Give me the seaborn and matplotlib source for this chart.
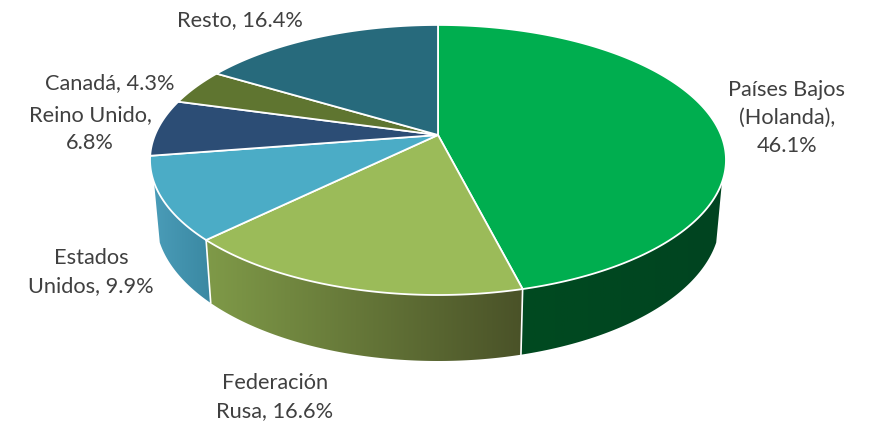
import matplotlib
matplotlib.use('Agg')
import matplotlib.pyplot as plt
from matplotlib.patches import Polygon
import numpy as np
import seaborn as sns

# Values, clockwise from twelve o'clock
categories = ['Países Bajos\n(Holanda),', 'Federación\nRusa,', 'Estados\nUnidos,',
              'Reino Unido,', 'Canadá,', 'Resto,']
shares = [46.1, 16.6, 9.9, 6.8, 4.3, 16.4]

top_colors = ['#00AE4F', '#9BBB59', '#4BACC6', '#2C4D75', '#5F7530', '#276A7C']
side_left = ['#004A20', '#7F9A48', '#4A9CB8', '#1F3A5C', '#47581F', '#1D5060']
side_right = ['#004420', '#4A5228', '#3A88A2', '#1F3A5C', '#47581F', '#1D5060']

# label centres in pixels
label_x = [787, 275, 91, 90, 110, 240]
label_y = [118, 397, 272, 129, 83, 20]

APEX_X, APEX_Y = 438, 135
RADIUS = 283
PERSP = 0.185
TILT = 130.4
CENTER_Y = 160
SHRINK_X = 0.98
STRETCH_Y = 1.054
DEPTH = 58.7
# the wall only shows between these rim angles
WALL_START = np.radians(110)
WALL_STOP = np.radians(250)


def project(theta):
  """Perspective view of a point on the pie rim (theta clockwise from top)."""
  x, y = np.sin(theta), np.cos(theta)
  w = 1 + PERSP * y
  return APEX_X + RADIUS * x / w, APEX_Y - TILT * y / w


def lower(px, py):
  """Same rim point on the bottom face of the disc."""
  return APEX_X + SHRINK_X * (px - APEX_X), CENTER_Y + STRETCH_Y * (py - CENTER_Y) + DEPTH


sns.set_theme(style='white')
plt.rcParams['font.family'] = ['Lato', 'DejaVu Sans']

fig, ax = plt.subplots(figsize=(8.69, 4.21), dpi=100)
fig.subplots_adjust(0, 0, 1, 1)

edges = np.cumsum([0] + shares) / sum(shares) * 2 * np.pi

# side wall first, shaded left to right
for i in range(3):
  t = np.linspace(max(edges[i], WALL_START), min(edges[i + 1], WALL_STOP), 200)
  px, py = project(t)
  qx, qy = lower(px, py)
  poly = Polygon(np.c_[np.r_[px, qx[::-1]], np.r_[py, qy[::-1]]], transform=ax.transData,
                 facecolor='none', edgecolor='none')
  ax.add_patch(poly)
  ramp = np.array(sns.blend_palette([side_left[i], side_right[i]], 256))[None, :, :3]
  x0, x1 = min(px.min(), qx.min()), max(px.max(), qx.max())
  im = ax.imshow(ramp, extent=(x0, x1, qy.max(), py.min()), aspect='auto', zorder=1)
  im.set_clip_path(poly)

# white seams on the wall
for angle in edges[1:3]:
  px, py = project(angle)
  qx, qy = lower(px, py)
  ax.plot([px, qx], [py, qy], color='white', lw=1.2, zorder=2)

# top face
for i in range(len(shares)):
  t = np.linspace(edges[i], edges[i + 1], 200)
  px, py = project(t)
  ax.fill(np.r_[APEX_X, px], np.r_[APEX_Y, py], facecolor=top_colors[i],
          edgecolor='white', lw=1.3, joinstyle='round', zorder=3)

for i in range(len(shares)):
  text = '%s %.1f%%' % (categories[i], shares[i])
  if i == 0:
    text = 'Países Bajos\n(Holanda),\n46.1%'
  if i == 3:
    text = 'Reino Unido,\n6.8%'
  ax.text(label_x[i], label_y[i], text, ha='center', va='center', fontsize=15.7,
          color='#404040', linespacing=1.5, zorder=4)

ax.set_xlim(0, 869)
ax.set_ylim(421, 0)
ax.axis('off')

fig.savefig('out.png', dpi=100)
